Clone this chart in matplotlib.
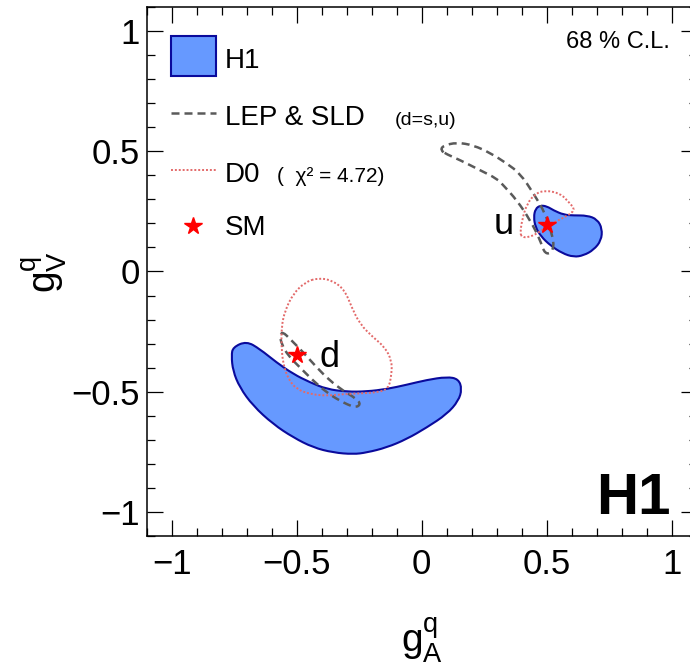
"""H1 light-quark couplings g_A^q vs g_V^q, 68% C.L. contours."""

import numpy as np
import matplotlib
matplotlib.use("Agg")
import matplotlib.pyplot as plt
from matplotlib.patches import PathPatch, Rectangle
from matplotlib.path import Path
from matplotlib.lines import Line2D
from matplotlib.ticker import MultipleLocator

plt.rcParams["font.family"] = ["Liberation Sans", "DejaVu Sans"]
plt.rcParams["mathtext.fontset"] = "custom"
plt.rcParams["mathtext.rm"] = "Liberation Sans"
plt.rcParams["mathtext.it"] = "Liberation Sans:italic"

# H1 contours (g_A, g_V)
h1_u_ga = [0.448, 0.455, 0.475, 0.501, 0.528, 0.568, 0.608, 0.662, 0.702, 0.722,
           0.718, 0.688, 0.648, 0.608, 0.562, 0.515, 0.477, 0.455]
h1_u_gv = [0.226, 0.261, 0.275, 0.271, 0.254, 0.236, 0.233, 0.233, 0.217, 0.178,
           0.129, 0.090, 0.067, 0.060, 0.076, 0.108, 0.146, 0.185]

h1_d_ga = [-0.755, -0.701, -0.648, -0.581, -0.514, -0.447, -0.380, -0.300, -0.220, -0.140,
           -0.060, 0.020, 0.101, 0.147, 0.161, 0.147, 0.101, 0.020, -0.060, -0.140,
           -0.220, -0.274, -0.354, -0.434, -0.514, -0.594, -0.675, -0.728, -0.755, -0.761]
h1_d_gv = [-0.315, -0.290, -0.322, -0.378, -0.426, -0.461, -0.489, -0.500, -0.499, -0.489,
           -0.471, -0.451, -0.438, -0.447, -0.489, -0.538, -0.593, -0.649, -0.697, -0.732,
           -0.753, -0.760, -0.753, -0.732, -0.690, -0.635, -0.558, -0.482, -0.413, -0.350]

# LEP & SLD contours
lep_u_ga = [0.076, 0.085, 0.141, 0.207, 0.274, 0.341, 0.394, 0.448, 0.495, 0.521, 0.530,
            0.508, 0.486, 0.475, 0.434, 0.381, 0.327, 0.301, 0.234, 0.154, 0.099]
lep_u_gv = [0.504, 0.523, 0.537, 0.525, 0.493, 0.449, 0.407, 0.324, 0.240, 0.157, 0.099,
            0.070, 0.086, 0.129, 0.213, 0.296, 0.358, 0.386, 0.421, 0.463, 0.488]

lep_d_ga = [-0.556, -0.527, -0.474, -0.420, -0.367, -0.314, -0.260, -0.244,
            -0.267, -0.327, -0.380, -0.434, -0.487, -0.534, -0.561, -0.567]
lep_d_gv = [-0.251, -0.280, -0.336, -0.399, -0.454, -0.496, -0.530, -0.553,
            -0.567, -0.538, -0.503, -0.454, -0.399, -0.350, -0.301, -0.265]

# D0 contours
d0_u_ga = [0.394, 0.401, 0.421, 0.455, 0.495, 0.555, 0.588, 0.617, 0.563, 0.507,
           0.461, 0.426, 0.402]
d0_u_gv = [0.157, 0.213, 0.282, 0.324, 0.338, 0.324, 0.289, 0.254, 0.221, 0.192,
           0.157, 0.142, 0.143]

d0_d_ga = [-0.414, -0.354, -0.307, -0.280, -0.247, -0.194, -0.147, -0.120, -0.120, -0.133,
           -0.180, -0.247, -0.314, -0.380, -0.447, -0.501, -0.534, -0.554, -0.561, -0.561,
           -0.547, -0.514, -0.467]
d0_d_gv = [-0.026, -0.038, -0.079, -0.149, -0.219, -0.274, -0.315, -0.371, -0.426, -0.489,
           -0.503, -0.507, -0.510, -0.517, -0.510, -0.489, -0.447, -0.385, -0.315, -0.232,
           -0.163, -0.093, -0.045]

# Standard Model points
sm_ga = [0.5, -0.5]
sm_gv = [0.1923, -0.3462]

BLUE_FILL = "#6699ff"
BLUE_EDGE = "#0a0a9c"
GREY = "#5a5a5a"
RED_DOT = "#e36a6a"

LEP_STYLE = dict(color=GREY, lw=1.8, linestyle=(0, (3.2, 2.0)))
D0_STYLE = dict(color=RED_DOT, lw=1.4, linestyle=(0, (1, 1)))


def smooth_path(xs, ys):
    # closed quadratic-bezier path using the contour points as control points
    pts = np.column_stack([xs, ys])
    nxt = np.roll(pts, -1, axis=0)
    mids = (pts + nxt) / 2
    verts = [mids[-1]]
    codes = [Path.MOVETO]
    for p, m in zip(pts, mids):
        verts += [p, m]
        codes += [Path.CURVE3, Path.CURVE3]
    verts.append(mids[-1])
    codes.append(Path.CLOSEPOLY)
    return Path(verts, codes)


fig = plt.figure(figsize=(6.9, 6.66), dpi=100)
ax = fig.add_axes([0.2126, 0.1952, 0.7971, 0.7943])

for xs, ys in [(h1_u_ga, h1_u_gv), (h1_d_ga, h1_d_gv)]:
    ax.add_patch(PathPatch(smooth_path(xs, ys), facecolor=BLUE_FILL,
                           edgecolor=BLUE_EDGE, lw=1.5, zorder=1))

for xs, ys in [(lep_u_ga, lep_u_gv), (lep_d_ga, lep_d_gv)]:
    ax.add_patch(PathPatch(smooth_path(xs, ys), fill=False, edgecolor=GREY, lw=1.8,
                           linestyle=(0, (3.2, 2.0)), zorder=2))

for xs, ys in [(d0_u_ga, d0_u_gv), (d0_d_ga, d0_d_gv)]:
    ax.add_patch(PathPatch(smooth_path(xs, ys), fill=False, edgecolor=RED_DOT, lw=1.4,
                           linestyle=(0, (1, 1)), zorder=2))

ax.plot(sm_ga, sm_gv, linestyle="none", marker="*", ms=13, color="red", mec="red", zorder=3)

ax.text(0.328, 0.158, "u", fontsize=26, ha="center", va="baseline")
ax.text(-0.369, -0.396, "d", fontsize=26, ha="center", va="baseline")

ax.set_xlim(-1.1, 1.1)
ax.set_ylim(-1.1, 1.1)
ax.xaxis.set_major_locator(MultipleLocator(0.5))
ax.yaxis.set_major_locator(MultipleLocator(0.5))
ax.xaxis.set_minor_locator(MultipleLocator(0.1))
ax.yaxis.set_minor_locator(MultipleLocator(0.1))
ax.xaxis.set_major_formatter(plt.FuncFormatter(lambda v, p: f"{v:g}".replace("-", "\u2212")))
ax.yaxis.set_major_formatter(plt.FuncFormatter(lambda v, p: f"{v:g}".replace("-", "\u2212")))
ax.tick_params(which="both", direction="in", top=True, right=True, width=0.9, labelsize=25)
ax.tick_params(which="major", length=11.5)
ax.tick_params(which="minor", length=5.8)
ax.tick_params(axis="x", pad=8.5)
ax.tick_params(axis="y", pad=4.8)
for s in ax.spines.values():
    s.set_linewidth(1.1)

ax.text(0.5, -0.197, r"$\mathregular{g_A^q}$", transform=ax.transAxes, fontsize=28,
        ha="center", va="center")
ax.text(-0.185, 0.5, r"$\mathregular{g_V^q}$", transform=ax.transAxes, fontsize=28,
        ha="center", va="center", rotation=90)

# legend drawn by hand in axes coordinates
ta = ax.transAxes
ax.add_patch(Rectangle((0.0449, 0.8696), 0.0812, 0.0756, transform=ta, facecolor=BLUE_FILL,
                       edgecolor=BLUE_EDGE, lw=1.5, zorder=4))
ax.add_line(Line2D([0.0449, 0.1261], [0.7996, 0.7996], transform=ta, zorder=4, **LEP_STYLE))
ax.add_line(Line2D([0.0449, 0.1261], [0.6919, 0.6919], transform=ta, zorder=4, **D0_STYLE))
ax.add_line(Line2D([0.0837], [0.586], transform=ta, marker="*", ms=13, color="red",
                   linestyle="none", zorder=4))
ax.text(0.1424, 0.8847, "H1", transform=ta, fontsize=20, va="baseline")
ax.text(0.1424, 0.7769, "LEP & SLD", transform=ta, fontsize=20, va="baseline")
ax.text(0.4515, 0.7769, "(d=s,u)", transform=ta, fontsize=14, va="baseline")
ax.text(0.1424, 0.6692, "D0", transform=ta, fontsize=20, va="baseline")
ax.text(0.2370, 0.6692, "(  \u03c7\u00b2 = 4.72)", transform=ta, fontsize=15, va="baseline")
ax.text(0.1424, 0.569, "SM", transform=ta, fontsize=20, va="baseline")

ax.text(0.952, 0.9225, "68 % C.L.", transform=ta, fontsize=17, ha="right", va="baseline")
ax.text(0.952, 0.0416, "H1", transform=ta, fontsize=42, fontweight="bold",
        ha="right", va="baseline")

fig.savefig("out.png", dpi=100)
